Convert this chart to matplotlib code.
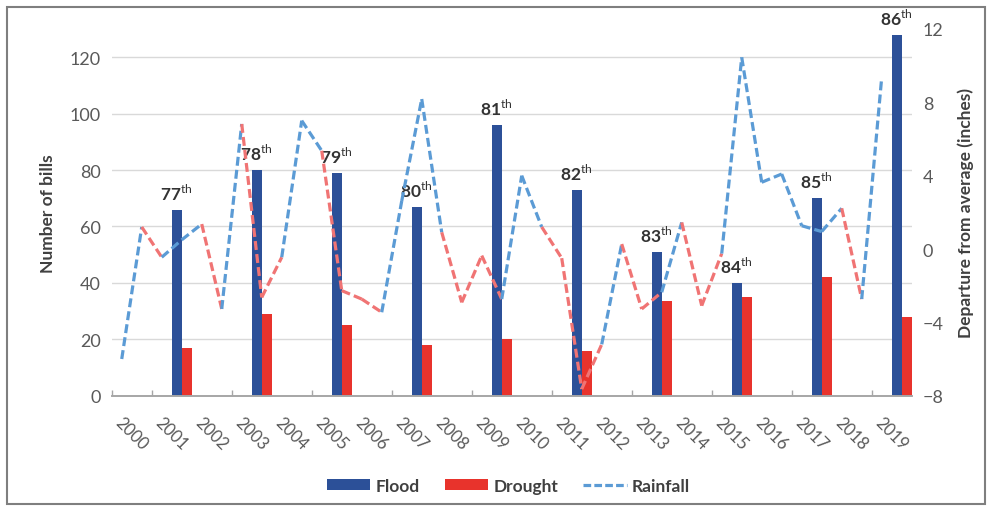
import numpy as np
import matplotlib.pyplot as plt
from matplotlib.patches import Rectangle

plt.rcParams['font.family'] = ['Lato', 'DejaVu Sans']
plt.rcParams['mathtext.fontset'] = 'custom'
plt.rcParams['mathtext.rm'] = 'Lato'

# data
years = [str(y) for y in range(2000, 2020)]
bar_years = [2001, 2003, 2005, 2007, 2009, 2011, 2013, 2015, 2017, 2019]
flood = [66, 80, 79, 67, 96, 73, 51, 40, 70, 128]
drought = [17, 29, 25, 18, 20, 16, 33.5, 35, 42, 28]
congress = ['77', '78', '79', '80', '81', '82', '83', '84', '85', '86']

# rainfall departure (inches), half-year points starting at 2000 - 0.25
rain = [-6.0, 1.2, -0.45, 0.5, 1.36, -3.27, 6.82, -2.64, -0.45, 7.0,
        5.36, -2.27, -2.73, -3.45, 2.62, 8.18, 0.91, -2.91, -0.36, -2.73,
        4.0, 1.2, -0.5, -7.64, -5.2, 0.27, -3.27, -2.36, 1.45, -3.09,
        -0.25, 10.45, 3.64, 4.09, 1.27, 0.95, 2.22, -2.73, 9.36]
# segment colours: b = rainfall blue, r = light red
seg_col = list('brbbrbrrbbrrrbbbrrrbbrrrbrrbrrbbbbbbrb')

c_flood = '#2C5098'
c_drought = '#E8332C'
c_rain = '#5B9BD5'
c_red = '#F07474'
c_text = '#595959'

fig = plt.figure(figsize=(9.95, 5.10), dpi=100)
ax = fig.add_axes([0.1123, 0.2222, 0.804, 0.719])
ax2 = ax.twinx()

bx = np.array([years.index(str(y)) for y in bar_years])
ax.bar(bx, flood, width=0.25, align='edge', color=c_flood, label='Flood', zorder=2)
ax.bar(bx + 0.25, drought, width=0.25, align='edge', color=c_drought, label='Drought', zorder=2)

for x, v, lab in zip(bx, flood, congress):
    ax.annotate(lab + r'$^{\rm th}$', (x + 0.125, v), xytext=(0, 5),
                textcoords='offset points', ha='center', va='bottom',
                fontsize=12.5, fontweight='bold', color='#333333', zorder=3)

rx = -0.25 + 0.5 * np.arange(len(rain))
for i, c in enumerate(seg_col):
    ax2.plot(rx[i:i + 2], rain[i:i + 2], color=c_rain if c == 'b' else c_red,
             lw=2.3, dashes=(2.8, 1.3), dash_capstyle='butt')
ax2.plot([], [], color=c_rain, lw=2.3, dashes=(2.4, 1.0), label='Rainfall')

ax.set_xlim(-0.5, 19.5)
ax.set_ylim(0, 130)
ax.set_yticks(range(0, 121, 20))
ax2.set_ylim(-8, 12)
ax2.set_yticks(range(-8, 13, 4))

ax.set_xticks(range(20))
ax.set_xticklabels(years, rotation=-45, ha='center', fontsize=12, color=c_text)
ax.set_xticks([-0.5] + [0.5 + 2 * k for k in range(10)], minor=True)
ax.tick_params(axis='x', which='major', length=0, pad=13)
ax.tick_params(axis='x', which='minor', direction='in', length=4, color='#A6A6A6', width=1)
ax.tick_params(axis='y', length=0, labelsize=13, labelcolor=c_text, pad=8)
ax2.tick_params(axis='y', length=0, labelsize=13, labelcolor=c_text, pad=8)

ax.grid(axis='y', color='#D9D9D9', lw=1, zorder=0)
ax.set_axisbelow(True)
for a in (ax, ax2):
    for s in ('top', 'left', 'right'):
        a.spines[s].set_visible(False)
    a.spines['bottom'].set_color('#A6A6A6')
    a.spines['bottom'].set_linewidth(1.2)

ax.set_ylabel('Number of bills', fontsize=12.5, fontweight='bold', color='#404040', labelpad=10)
ax2.set_ylabel('Departure from average (inches)', fontsize=12.5, fontweight='bold',
               color='#404040', labelpad=10)

h1, l1 = ax.get_legend_handles_labels()
h2, l2 = ax2.get_legend_handles_labels()
leg = fig.legend(h1 + h2, l1 + l2, loc='center', bbox_to_anchor=(0.511, 0.046), ncol=3,
                 frameon=False, handlelength=2.5, handleheight=0.57, columnspacing=1.45,
                 handletextpad=0.3, prop={'size': 12.5, 'weight': 'bold'})
for t in leg.get_texts():
    t.set_color('#404040')

fig.patches.append(Rectangle((0.007, 0.01), 0.983, 0.975, transform=fig.transFigure,
                             fill=False, edgecolor='#7F7F7F', lw=1.5))

fig.savefig('out.png', dpi=100)
